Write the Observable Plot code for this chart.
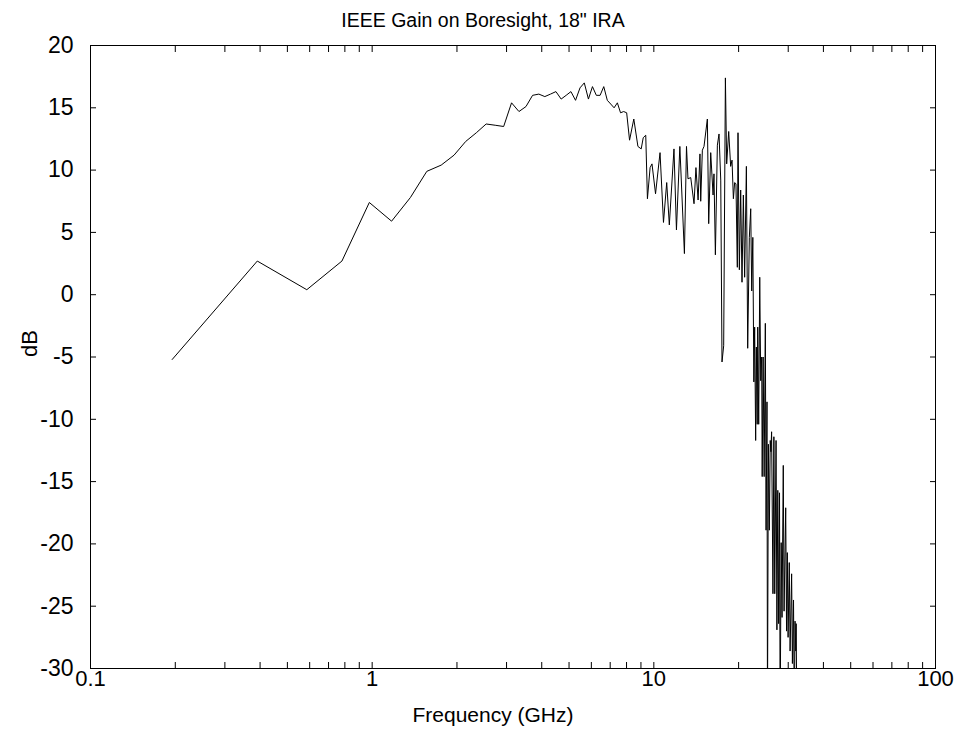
<!DOCTYPE html>
<html>
<head>
<meta charset="utf-8">
<script src="https://cdn.jsdelivr.net/npm/d3@7"></script>
<script src="https://cdn.jsdelivr.net/npm/@observablehq/plot@0.6"></script>
<style>
  html, body { margin: 0; padding: 0; background: white; }
</style>
</head>
<body>
<div id="chart"></div>
<script>
const title = "IEEE Gain on Boresight, 18\" IRA";
const xLabel = "Frequency (GHz)";
const yLabel = "dB";

// Frequency (GHz)
const freq = [
  0.195,0.391,0.586,0.781,0.977,1.172,1.367,1.563,1.758,1.953,2.148,2.344,2.539,2.734,2.930,3.125,
  3.320,3.516,3.711,3.906,4.102,4.297,4.492,4.688,4.883,5.078,5.273,5.469,5.664,5.859,6.055,6.250,
  6.445,6.641,6.836,7.031,7.227,7.422,7.617,7.813,8.008,
  8.20,8.49,8.78,9.02,9.17,9.36,9.49,9.70,9.85,10.14,10.52,10.82,11.11,11.35,11.79,12.03,12.37,
  12.84,13.06,13.22,13.52,13.89,14.11,14.36,14.58,14.67,14.87,15.07,15.49,15.66,15.92,16.23,16.35,
  16.54,16.81,17.04,17.28,17.46,17.70,17.95,18.14,18.44,18.74,18.95,19.16,19.36,19.57,19.79,19.90,
  20.12,20.34,20.56,20.79,21.01,21.31,21.54,21.83,22.08,22.26,22.46,22.65,22.80,22.99,23.12,23.28,
  23.38,23.57,23.77,23.96,24.15,24.25,24.44,24.64,24.88,25.03,25.22,25.32,25.51,25.71,25.90,26.04,
  26.19,26.48,26.68,26.87,27.16,27.35,27.55,27.74,27.94,28.08,28.32,28.52,28.81,29.00,29.39,29.59,
  29.78,29.97,30.26,30.46,30.85,31.04,31.33,31.53,31.72,31.91,32.01,32.20
];
// Gain (dB)
const gain = [
  -5.2,2.7,0.4,2.7,7.4,5.9,7.8,9.9,10.4,11.2,12.3,13.0,13.7,13.6,13.5,15.4,
  14.7,15.1,16.0,16.1,15.9,16.1,16.3,15.7,16.0,16.3,15.6,16.6,17.0,15.7,16.7,16.0,
  16.0,16.7,15.6,15.3,15.0,15.4,14.6,14.7,14.6,
  12.4,14.1,11.9,11.7,12.6,12.8,7.7,10.2,10.5,8.1,11.4,5.8,9.0,5.6,11.7,5.2,11.9,
  3.3,11.9,9.3,9.4,7.3,10.2,7.6,11.3,7.5,11.6,11.9,14.1,5.7,11.4,8.0,9.7,
  3.2,12.0,12.9,9.2,-5.4,-4.1,17.4,10.5,13.1,10.3,10.8,7.7,9.0,8.9,2.2,13.0,
  2.0,8.4,1.0,8.0,1.4,10.3,-4.3,4.6,6.9,0.3,4.6,-7.0,-2.6,-11.7,-4.2,-10.4,
  -2.6,-10.4,1.4,-6.9,-5.0,-14.6,-5.0,-14.6,-2.3,-18.9,-8.6,-34,-12.0,-18.9,-11.7,-12.6,
  -11.0,-24.0,-11.4,-24.0,-11.7,-26.9,-15.7,-26.4,-15.9,-34,-19.9,-25.9,-13.7,-25.4,-17.1,-27.0,
  -20.7,-27.5,-21.5,-28.6,-22.4,-29.6,-24.5,-34,-26.2,-28.6,-26.4,-34
];

const xMajor = [0.1, 1, 10, 100];
const xMinor = [0.2,0.3,0.4,0.5,0.6,0.7,0.8,0.9, 2,3,4,5,6,7,8,9, 20,30,40,50,60,70,80,90];
const yTicks = [-30,-25,-20,-15,-10,-5,0,5,10,15,20];

const data = freq.map((f, i) => ({f, g: gain[i]}));
const font = "'Liberation Sans', Arial, Helvetica, sans-serif";

const chart = Plot.plot({
  width: 963,
  height: 740,
  marginTop: 45,
  marginBottom: 72,
  marginLeft: 90,
  marginRight: 28,
  style: {fontFamily: font, fontSize: "21px", background: "white", color: "black", overflow: "visible"},
  x: {type: "log", domain: [0.1, 100]},
  y: {domain: [-30, 20]},
  marks: [
    Plot.line(data, {x: "f", y: "g", stroke: "black", strokeWidth: 1, clip: true}),
    Plot.frame({stroke: "black", strokeWidth: 1}),
    Plot.axisX({anchor: "bottom", ticks: xMajor, tickSize: 0, tickPadding: 2, tickFormat: d => String(d), label: null, fontSize: 22}),
    Plot.axisX({anchor: "bottom", ticks: [...xMajor, ...xMinor], tickSize: -6, tickFormat: () => "", label: null}),
    Plot.axisX({anchor: "top", ticks: [...xMajor, ...xMinor], tickSize: -6, tickFormat: () => "", label: null}),
    Plot.axisY({anchor: "left", ticks: yTicks, tickSize: 0, tickPadding: 17, tickFormat: d => String(d), label: null, fontSize: 23}),
    Plot.axisY({anchor: "left", ticks: yTicks, tickSize: -6, tickFormat: () => "", label: null}),
    Plot.axisY({anchor: "right", ticks: yTicks, tickSize: -6, tickFormat: () => "", label: null}),
    Plot.text([title], {frameAnchor: "top", dx: -30, dy: -32, fontSize: 19.5, fill: "black"}),
    Plot.text([xLabel], {frameAnchor: "bottom", dx: -20, dy: 53, fontSize: 21, fill: "black"}),
    Plot.text([yLabel], {frameAnchor: "left", dx: -61, rotate: -90, fontSize: 22, fill: "black"})
  ]
});
document.getElementById("chart").appendChild(chart);
</script>
</body>
</html>
